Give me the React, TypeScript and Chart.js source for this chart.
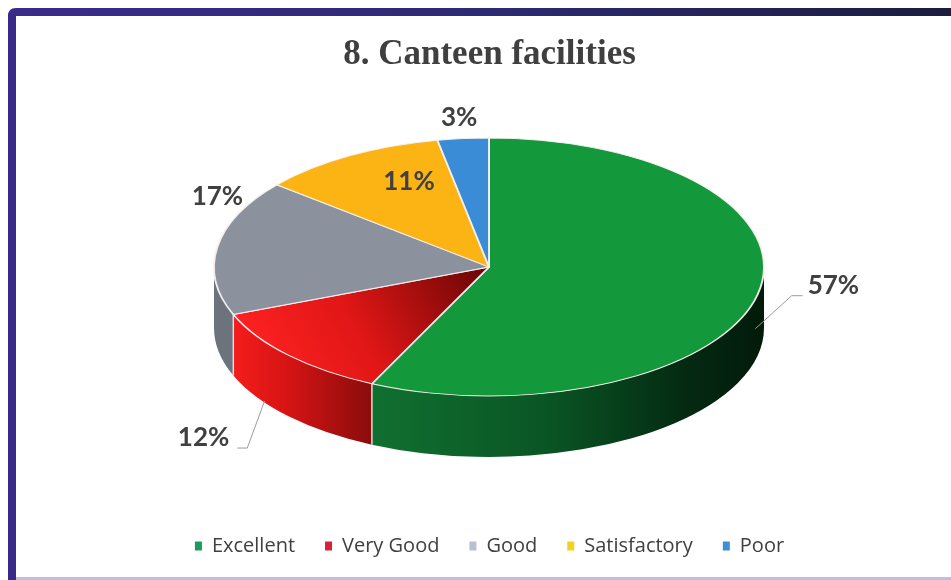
import React, { useEffect, useRef } from 'react';
import { Chart, registerables } from 'chart.js';

Chart.register(...registerables);

// ---- data ----
const chartTitle = '8. Canteen facilities';
const categories = ['Excellent', 'Very Good', 'Good', 'Satisfactory', 'Poor'];
const values = [57, 12, 17, 11, 3];
const topColors = ['#13983c', '#ee1c1c', '#8b929d', '#fbb414', '#3b8cd6'];
const legendColors = ['#1d9a5c', '#d8223c', '#b9bfd8', '#f3d21e', '#3f8fd4'];

// ---- layout (3D ellipse projection) ----
const CX = 489;
const CY = 267;
const RX = 275;
const RY = 129;
const DEPTH = 61;

// label placement per slice: anchor on ellipse (f = radius factor, wall = fraction of depth)
const labelPlacement: any[] = [
  { f: 1, wall: 0.55, adx: -2, dx: 78, dy: -43, leader: 'right' },
  { f: 1, wall: 0.75, adx: -24, dx: -61, dy: 37, leader: 'left' },
  { f: 1, wall: 0, adx: 0, dx: 0, dy: -50, leader: '' },
  { f: 0.6, wall: 0, adx: 0, dx: 4, dy: -19, leader: '' },
  { f: 1, wall: 0, adx: 0, dx: -4, dy: -21, leader: '' },
];

function sideFill(ctx: CanvasRenderingContext2D, i: number, s: number, e: number) {
  const x1 = CX + RX * Math.cos(s);
  const x2 = CX + RX * Math.cos(e);
  if (i === 0) {
    const g = ctx.createLinearGradient(x2, 0, x1, 0);
    g.addColorStop(0, '#107030');
    g.addColorStop(0.45, '#0a5524');
    g.addColorStop(0.8, '#042a12');
    g.addColorStop(1, '#021a0a');
    return g;
  }
  if (i === 1) {
    const g = ctx.createLinearGradient(CX - RX, 0, x1, 0);
    g.addColorStop(0, '#ff2020');
    g.addColorStop(0.45, '#d81414');
    g.addColorStop(1, '#8a0c0c');
    return g;
  }
  return '#6c737d';
}

const framePlugin = {
  id: 'frame',
  beforeDraw(chart: any) {
    const ctx = chart.ctx;
    const w = chart.width;
    const h = chart.height;
    ctx.save();
    ctx.fillStyle = '#ffffff';
    ctx.fillRect(0, 0, w, h);
    const g = ctx.createLinearGradient(8, 0, w, 0);
    g.addColorStop(0, '#3b2b8c');
    g.addColorStop(0.5, '#2d2a74');
    g.addColorStop(1, '#1b1d3e');
    ctx.fillStyle = g;
    ctx.beginPath();
    ctx.moveTo(8, 16);
    ctx.quadraticCurveTo(8, 8, 16, 8);
    ctx.lineTo(w, 8);
    ctx.lineTo(w, 16);
    ctx.lineTo(8, 16);
    ctx.closePath();
    ctx.fill();
    ctx.fillStyle = '#3a2a88';
    ctx.fillRect(8, 14, 8, h - 14);
    ctx.fillStyle = '#c4bce0';
    ctx.fillRect(16, h - 3, w - 16, 3);
    ctx.restore();
  },
};

const pie3dPlugin = {
  id: 'pie3d',
  beforeDatasetsDraw(chart: any) {
    const meta = chart.getDatasetMeta(0);
    const arcs = meta.data;
    const ctx = chart.ctx;
    chart.$pie3dSaved = false;
    if (!arcs || !arcs.length) return;
    // side walls (front half only)
    arcs.forEach((arc: any, i: number) => {
      const s = Math.max(arc.startAngle, 0);
      const e = Math.min(arc.endAngle, Math.PI);
      if (e <= s) return;
      ctx.save();
      ctx.beginPath();
      ctx.ellipse(CX, CY, RX, RY, 0, s, e, false);
      ctx.lineTo(CX + RX * Math.cos(e), CY + RY * Math.sin(e) + DEPTH);
      ctx.ellipse(CX, CY + DEPTH, RX, RY, 0, e, s, true);
      ctx.closePath();
      ctx.fillStyle = sideFill(ctx, i, s, e);
      ctx.fill();
      ctx.restore();
    });
    // slice boundaries visible on the side
    arcs.forEach((arc: any) => {
      const a = arc.endAngle;
      if (a > 0.02 && a < Math.PI - 0.02) {
        const x = CX + RX * Math.cos(a);
        const y = CY + RY * Math.sin(a);
        ctx.save();
        ctx.strokeStyle = 'rgba(245,230,230,0.9)';
        ctx.lineWidth = 1.5;
        ctx.beginPath();
        ctx.moveTo(x, y);
        ctx.lineTo(x, y + DEPTH);
        ctx.stroke();
        ctx.restore();
      }
    });
    const a0 = arcs[0];
    const R = a0.outerRadius;
    ctx.save();
    chart.$pie3dSaved = true;
    ctx.translate(CX, CY);
    ctx.scale(RX / R, RY / R);
    ctx.translate(-a0.x, -a0.y);
  },
  afterDatasetsDraw(chart: any) {
    const ctx = chart.ctx;
    if (chart.$pie3dSaved) {
      ctx.restore();
      chart.$pie3dSaved = false;
    }
    const meta = chart.getDatasetMeta(0);
    const arcs = meta.data;
    if (!arcs || !arcs.length) return;
    ctx.save();
    ctx.font = 'bold 26px Lato';
    ctx.textAlign = 'center';
    ctx.textBaseline = 'middle';
    arcs.forEach((arc: any, i: number) => {
      const p = labelPlacement[i];
      const mid = (arc.startAngle + arc.endAngle) / 2;
      const ax = CX + RX * p.f * Math.cos(mid) + p.adx;
      const ay = CY + RY * p.f * Math.sin(mid) + DEPTH * p.wall;
      const lx = ax + p.dx;
      const ly = ay + p.dy;
      const text = values[i] + '%';
      const tw = ctx.measureText(text).width;
      if (p.leader) {
        ctx.strokeStyle = '#9c9c9c';
        ctx.lineWidth = 1;
        ctx.beginPath();
        ctx.moveTo(ax, ay);
        if (p.leader === 'right') {
          ctx.lineTo(lx - tw / 2 - 16, ly + 10);
          ctx.lineTo(lx - tw / 2 - 5, ly + 10);
        } else {
          ctx.lineTo(lx + tw / 2 + 18, ly + 10);
          ctx.lineTo(lx + tw / 2 + 8, ly + 10);
        }
        ctx.stroke();
      }
      ctx.fillStyle = '#404040';
      ctx.fillText(text, lx, ly);
    });
    ctx.restore();
  },
};

export default function App() {
  const canvasRef = useRef<HTMLCanvasElement | null>(null);

  useEffect(() => {
    const canvas = canvasRef.current;
    if (!canvas) return;
    const chart = new Chart(canvas, {
      type: 'pie',
      data: {
        labels: categories,
        datasets: [
          {
            data: values,
            clip: false,
            backgroundColor: (c: any) => {
              const i = c.dataIndex;
              if (i === 1 && c.chart.chartArea) {
                const area = c.chart.chartArea;
                const cx = (area.left + area.right) / 2;
                const cy = (area.top + area.bottom) / 2;
                const R = Math.min(area.right - area.left, area.bottom - area.top) / 2;
                const g = c.chart.ctx.createLinearGradient(cx - R, cy + R * 0.2, cx - R * 0.05, cy - R * 0.05);
                g.addColorStop(0, '#ff2222');
                g.addColorStop(0.45, '#e01616');
                g.addColorStop(1, '#6e0606');
                return g;
              }
              return topColors[i];
            },
            borderColor: 'rgba(248,240,240,0.95)',
            borderWidth: 1.5,
            hoverOffset: 0,
          } as any,
        ],
      },
      options: {
        responsive: false,
        maintainAspectRatio: false,
        animation: false,
        devicePixelRatio: 1,
        events: [],
        layout: { padding: { top: 0, bottom: 14, left: 28, right: 0 } },
        plugins: {
          title: {
            display: true,
            text: chartTitle,
            color: '#3f3f3f',
            font: { family: "'Liberation Serif', 'Times New Roman', serif", size: 35, weight: 'bold' },
            padding: { top: 34, bottom: 10 },
          },
          legend: {
            display: true,
            position: 'bottom',
            labels: {
              usePointStyle: true,
              pointStyle: 'rect',
              boxWidth: 8,
              boxHeight: 9,
              pointStyleWidth: 7,
              padding: 30,
              color: '#404040',
              font: { family: "'Open Sans'", size: 20 },
              generateLabels: () =>
                categories.map((c, i) => ({
                  text: c,
                  fillStyle: legendColors[i],
                  strokeStyle: legendColors[i],
                  lineWidth: 0,
                  pointStyle: 'rect',
                  hidden: false,
                  index: i,
                  fontColor: '#404040',
                })),
            },
          },
          tooltip: { enabled: false },
        },
      } as any,
      plugins: [framePlugin, pie3dPlugin],
    });
    return () => chart.destroy();
  }, []);

  return (
    <div style={{ position: 'fixed', left: 0, top: 0, width: 951, height: 580, background: '#fff' }}>
      <canvas ref={canvasRef} width={951} height={580} style={{ display: 'block', width: 951, height: 580 }} />
    </div>
  );
}
